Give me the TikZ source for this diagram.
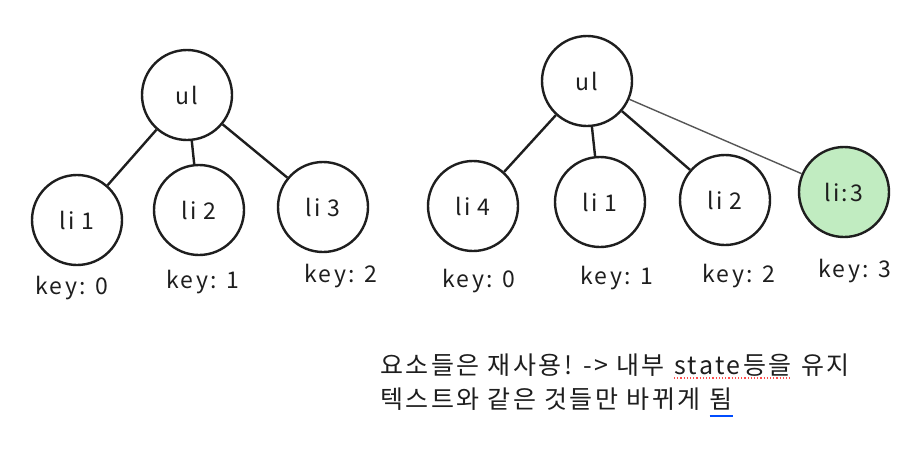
\documentclass[tikz,border=0pt]{standalone}
\usepackage{fontspec}
\setmainfont[LetterSpace=10]{Noto Sans CJK KR}
\definecolor{greenfill}{HTML}{C1ECC1}
\definecolor{ink}{HTML}{1E1E1E}
\tikzset{
  elem/.style={circle, draw=ink, line width=2.4pt, minimum size=90pt, inner sep=0pt, font=\fontsize{23}{26}\selectfont, text=ink},
  keylabel/.style={font=\fontsize{23}{26}\selectfont, text=ink, inner sep=0pt},
  link/.style={draw=ink, line width=2.4pt},
  thinlink/.style={draw=ink!75, line width=1.4pt},
  note/.style={font=\fontsize{25}{28}\selectfont, text=ink, anchor=base west, inner sep=0pt}
}
\begin{document}
\begin{tikzpicture}[x=1pt,y=-1pt]
\useasboundingbox[fill=white] (0,0) rectangle (924,456);
% left tree
\node[elem] (ulA) at (187,95) {ul};
\node[elem] (a1) at (77,220) {li 1};
\node[elem] (a2) at (199,210) {li 2};
\node[elem] (a3) at (323,207) {li 3};
\draw[link] (ulA) -- (a1);
\draw[link] (ulA) -- (a2);
\draw[link] (ulA) -- (a3);
\node[keylabel] (k1) at (72,288) {key: 0};
\node[keylabel] (k2) at (203,282) {key: 1};
\node[keylabel] (k3) at (341,276) {key: 2};
% right tree
\node[elem] (ulB) at (587,81) {ul};
\node[elem] (b4) at (473,206) {li 4};
\node[elem] (b1) at (600,202) {li 1};
\node[elem] (b2) at (725,200) {li 2};
\node[elem, fill=greenfill] (b3) at (844,192) {li:3};
\draw[link] (ulB) -- (b4);
\draw[link] (ulB) -- (b1);
\draw[link] (ulB) -- (b2);
\draw[thinlink] (ulB) -- (b3);
\node[keylabel] (m1) at (479,281) {key: 0};
\node[keylabel] (m2) at (617,278) {key: 1};
\node[keylabel] (m3) at (739,276) {key: 2};
\node[keylabel] (m4) at (855,271) {key: 3};
% note
\node[note] (n1a) at (380,374) {요소들은 재사용! -> 내부\strut};
\node[note] (n1b) at ([xshift=9pt]n1a.base east) {state등을\strut};
\node[note] (n1c) at ([xshift=9pt]n1b.base east) {유지\strut};
\node[note] (n2a) at (380,408) {텍스트와 같은 것들만 바뀌게\strut};
\node[note] (n2b) at ([xshift=9pt]n2a.base east) {됨\strut};
\draw[red!70, line width=1.2pt, dotted] ([yshift=-4pt]n1b.base west) -- ([yshift=-4pt]n1b.base east);
\draw[blue!70!cyan, line width=2pt] ([yshift=-8pt]n2b.base west) -- ([yshift=-8pt]n2b.base east);
\end{tikzpicture}
\end{document}
